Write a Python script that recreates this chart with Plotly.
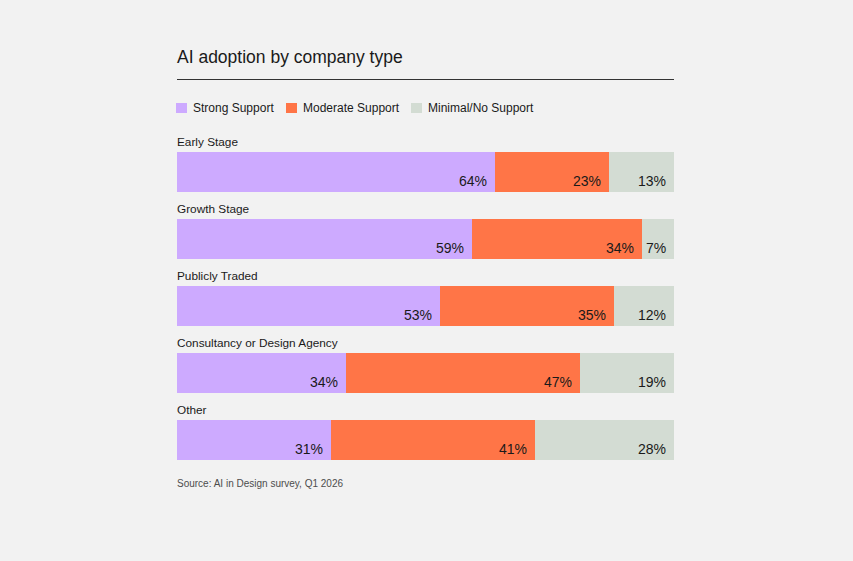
import plotly.graph_objects as go

categories = ["Early Stage", "Growth Stage", "Publicly Traded", "Consultancy or Design Agency", "Other"]
series_names = ["Strong Support", "Moderate Support", "Minimal/No Support"]
strong = [64, 59.3, 53, 34, 31]
moderate = [23, 34.2, 35, 47, 41]
minimal = [13, 6.5, 12, 19, 28]
colors = ["#cdaaff", "#ff7547", "#d3dcd3"]

series = [strong, moderate, minimal]
ypos = list(range(len(categories)))

FONT = "Liberation Sans, Arial, sans-serif"
TXT = "#1a1a1a"

# layout constants (pixels)
PL, PR, PT, PB = 177, 674, 152, 460
W, H = PR - PL, PB - PT


def px_x(p):
    return (p - PL) / W


def px_y(p):
    return 1 + (PT - p) / H


fig = go.Figure()
for name, vals, col in zip(series_names, series, colors):
    fig.add_trace(go.Bar(
        x=vals, y=ypos, orientation="h", name=name,
        marker=dict(color=col, line=dict(width=0)),
        width=40 / 67, hoverinfo="skip", showlegend=False,
    ))

annotations = []
for i in ypos:
    cum = 0
    for vals in series:
        cum += vals[i]
        annotations.append(dict(
            x=cum, y=i, xref="x", yref="y", text=f"{int(vals[i] + 0.5)}%",
            showarrow=False, xanchor="right", yanchor="middle",
            xshift=-6, yshift=-9,
            font=dict(family=FONT, size=14, color=TXT),
        ))
    annotations.append(dict(
        x=0, y=i, xref="paper", yref="y", text=categories[i],
        showarrow=False, xanchor="left", yanchor="middle",
        xshift=-2, yshift=30,
        font=dict(family=FONT, size=11.8, color=TXT),
    ))

annotations.append(dict(
    x=0, y=px_y(57), xref="paper", yref="paper",
    text="AI adoption by company type", showarrow=False,
    xanchor="left", yanchor="middle", xshift=-2,
    font=dict(family=FONT, size=17.5, color=TXT),
))
annotations.append(dict(
    x=0, y=px_y(483), xref="paper", yref="paper",
    text="Source: AI in Design survey, Q1 2026", showarrow=False,
    xanchor="left", yanchor="middle", xshift=-2,
    font=dict(family=FONT, size=10, color="#4d4d4d"),
))

# manual legend
legend_swatch_px = [176, 286, 411]
shapes = [dict(type="line", xref="paper", yref="paper", x0=0, x1=1,
               y0=px_y(79.5), y1=px_y(79.5), line=dict(color="#333333", width=1))]
for name, col, sx in zip(series_names, colors, legend_swatch_px):
    shapes.append(dict(type="rect", xref="paper", yref="paper",
                       x0=px_x(sx), x1=px_x(sx + 11), y0=px_y(113), y1=px_y(103),
                       fillcolor=col, line=dict(width=0)))
    annotations.append(dict(
        x=px_x(sx + 17), y=px_y(108), xref="paper", yref="paper", text=name,
        showarrow=False, xanchor="left", yanchor="middle", xshift=-2,
        font=dict(family=FONT, size=12, color=TXT),
    ))

fig.update_layout(
    barmode="stack",
    width=853, height=561,
    margin=dict(l=PL, r=853 - PR, t=PT, b=561 - PB),
    paper_bgcolor="#f2f2f2", plot_bgcolor="#f2f2f2",
    bargap=0,
    xaxis=dict(range=[0, 100], visible=False, fixedrange=True),
    yaxis=dict(range=[4 + 20 / 67, -20 / 67], visible=False, fixedrange=True),
    showlegend=False,
    annotations=annotations,
    shapes=shapes,
)

fig.write_html("out.html")
